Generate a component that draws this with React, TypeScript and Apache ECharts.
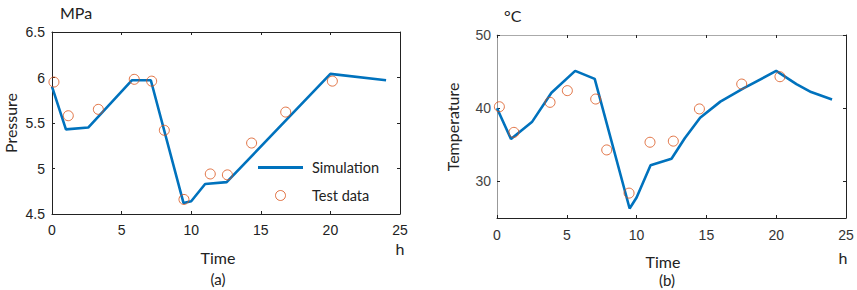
import React, { useEffect, useRef } from "react";
import * as echarts from "echarts";

// (a) pressure: simulation curve and measured points
const pressureSimTime = [0, 1.0, 2.6, 5.75, 7.1, 9.45, 10.0, 11.0, 12.55, 20.0, 24.0];
const pressureSim = [5.9, 5.43, 5.45, 5.97, 5.97, 4.62, 4.64, 4.83, 4.85, 6.04, 5.97];
const pressureTestTime = [0.14, 1.17, 3.33, 5.91, 7.16, 8.07, 9.48, 11.37, 12.6, 14.34, 16.79, 20.14];
const pressureTest = [5.95, 5.58, 5.65, 5.98, 5.96, 5.42, 4.66, 4.94, 4.93, 5.28, 5.62, 5.96];

// (b) temperature: simulation curve and measured points
const tempSimTime = [0, 1.0, 2.5, 3.9, 5.6, 7.0, 9.5, 10.0, 11.0, 12.5, 13.45, 14.55, 16.0, 17.65, 20.0, 21.45, 22.5, 24.0];
const tempSim = [40.0, 35.8, 38.1, 42.1, 45.1, 44.0, 26.3, 27.8, 32.2, 33.1, 35.9, 38.7, 40.9, 42.7, 45.1, 43.3, 42.2, 41.2];
const tempTestTime = [0.17, 1.21, 3.8, 5.04, 7.07, 7.86, 9.46, 10.96, 12.63, 14.5, 17.53, 20.27];
const tempTest = [40.2, 36.7, 40.8, 42.4, 41.25, 34.3, 28.4, 35.35, 35.5, 39.9, 43.3, 44.3];

const tempTicks = [30, 40, 50];

const SIM_COLOR = "#0072BD";
const TEST_COLOR = "#D95319";
const NUM_FONT = "Liberation Sans, Arial, sans-serif";
const TXT_FONT = "Lato, sans-serif";

const zip = (xs: number[], ys: number[]) => xs.map((x, i) => [x, ys[i]]);

function frameAxis(gridIndex: number, position: string, color: string, extra: any = {}) {
  return {
    type: "value",
    gridIndex,
    position,
    axisLine: { show: true, onZero: false, lineStyle: { color, width: 1 } },
    axisTick: { show: true, inside: true, length: 3, lineStyle: { color: "#222" } },
    axisLabel: { show: false },
    splitLine: { show: false },
    ...extra,
  };
}

export default function App() {
  const ref = useRef<HTMLDivElement>(null);

  useEffect(() => {
    if (!ref.current) return;
    const chart = echarts.init(ref.current, undefined, { renderer: "svg" });

    const numLabel = (margin: number, color: string) => ({
      show: true,
      margin,
      fontSize: 14,
      fontFamily: NUM_FONT,
      color,
    });

    const circleStyle = { color: "transparent", borderColor: TEST_COLOR, borderWidth: 1 };

    const option: any = {
      animation: false,
      backgroundColor: "#fff",
      grid: [
        { left: 52, top: 32, width: 348, height: 182 },
        { left: 497, top: 35, width: 349, height: 183 },
      ],
      xAxis: [
        frameAxis(0, "bottom", "#222", { min: 0, max: 25, interval: 5, axisLabel: numLabel(9, "#222") }),
        frameAxis(0, "top", "#222", { min: 0, max: 25, interval: 5 }),
        frameAxis(1, "bottom", "#222", { min: 0, max: 25, interval: 5, axisLabel: numLabel(10, "#333") }),
        frameAxis(1, "top", "#aaa", { min: 0, max: 25, interval: 5 }),
      ],
      yAxis: [
        frameAxis(0, "left", "#222", { min: 4.5, max: 6.5, interval: 0.5, axisLabel: numLabel(7, "#222") }),
        frameAxis(0, "right", "#222", { min: 4.5, max: 6.5, interval: 0.5 }),
        frameAxis(1, "left", "#999", {
          min: 25, max: 50, interval: 5,
          axisTick: { show: true, inside: true, length: 3, customValues: tempTicks, lineStyle: { color: "#222" } },
          axisLabel: { ...numLabel(6, "#444"), customValues: tempTicks },
        }),
        frameAxis(1, "right", "#222", {
          min: 25, max: 50, interval: 5,
          axisTick: { show: true, inside: true, length: 3, customValues: tempTicks, lineStyle: { color: "#222" } },
        }),
      ],
      legend: {
        show: true,
        orient: "vertical",
        left: 254,
        top: 158,
        itemWidth: 45,
        itemHeight: 10,
        itemGap: 13,
        data: [
          { name: "Simulation", icon: "path://M0,0 L45,0 L45,3 L0,3 Z", itemStyle: { color: SIM_COLOR } },
          { name: "Test data", icon: "circle", itemStyle: circleStyle },
        ],
        textStyle: { fontFamily: TXT_FONT, fontSize: 14.5, color: "#222", padding: [0, 0, 0, 4] },
        backgroundColor: "#fff",
        padding: [2, 4, 2, 4],
      },
      series: [
        {
          name: "Simulation",
          type: "line",
          xAxisIndex: 0,
          yAxisIndex: 0,
          data: zip(pressureSimTime, pressureSim),
          symbol: "none",
          lineStyle: { color: SIM_COLOR, width: 2.6 },
          itemStyle: { color: SIM_COLOR },
          z: 2,
        },
        {
          name: "Test data",
          type: "scatter",
          xAxisIndex: 0,
          yAxisIndex: 0,
          data: zip(pressureTestTime, pressureTest),
          symbol: "circle",
          symbolSize: 10,
          itemStyle: circleStyle,
          z: 3,
        },
        {
          name: "Temperature simulation",
          type: "line",
          xAxisIndex: 2,
          yAxisIndex: 2,
          data: zip(tempSimTime, tempSim),
          symbol: "none",
          lineStyle: { color: SIM_COLOR, width: 2.6 },
          itemStyle: { color: SIM_COLOR },
          z: 2,
        },
        {
          name: "Temperature test data",
          type: "scatter",
          xAxisIndex: 2,
          yAxisIndex: 2,
          data: zip(tempTestTime, tempTest),
          symbol: "circle",
          symbolSize: 10,
          itemStyle: circleStyle,
          z: 3,
        },
      ],
      graphic: [
        // (a) labels
        { type: "text", x: 60, y: 12, style: { text: "MPa", font: `16px ${TXT_FONT}`, fill: "#222", textVerticalAlign: "middle" } },
        { type: "text", x: 10, y: 123, rotation: Math.PI / 2, style: { text: "Pressure", font: `16px ${TXT_FONT}`, fill: "#222", textAlign: "center", textVerticalAlign: "middle" } },
        { type: "text", x: 218, y: 257, style: { text: "Time", font: `16px ${TXT_FONT}`, fill: "#222", textAlign: "center", textVerticalAlign: "middle" } },
        { type: "text", x: 400, y: 248, style: { text: "h", font: `16px ${TXT_FONT}`, fill: "#222", textAlign: "center", textVerticalAlign: "middle" } },
        { type: "text", x: 218, y: 279, style: { text: "(a)", font: `15px ${TXT_FONT}`, fill: "#222", textAlign: "center", textVerticalAlign: "middle" } },
        // (b) labels
        { type: "text", x: 504, y: 15, style: { text: "°C", font: `16px ${TXT_FONT}`, fill: "#222", textVerticalAlign: "middle" } },
        { type: "text", x: 452, y: 127, rotation: Math.PI / 2, style: { text: "Temperature", font: `16px ${TXT_FONT}`, fill: "#222", textAlign: "center", textVerticalAlign: "middle" } },
        { type: "text", x: 663, y: 261, style: { text: "Time", font: `16px ${TXT_FONT}`, fill: "#222", textAlign: "center", textVerticalAlign: "middle" } },
        { type: "text", x: 843, y: 257, style: { text: "h", font: `16px ${TXT_FONT}`, fill: "#222", textAlign: "center", textVerticalAlign: "middle" } },
        { type: "text", x: 667, y: 280, style: { text: "(b)", font: `15px ${TXT_FONT}`, fill: "#222", textAlign: "center", textVerticalAlign: "middle" } },
      ],
    };

    chart.setOption(option);
    return () => chart.dispose();
  }, []);

  return (
    <div
      ref={ref}
      style={{ position: "absolute", left: 0, top: 0, width: 857, height: 290, background: "#fff" }}
    />
  );
}
